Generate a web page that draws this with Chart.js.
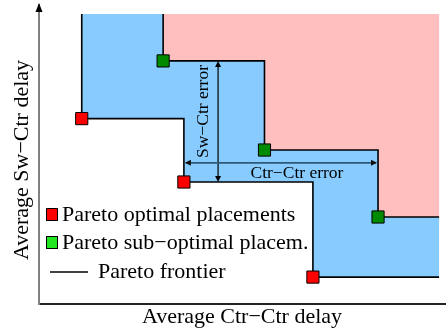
<!DOCTYPE html>
<html>
<head>
<meta charset="utf-8">
<script src="https://cdn.jsdelivr.net/npm/chart.js@4/dist/chart.umd.min.js"></script>
<style>
  html, body { margin: 0; padding: 0; background: #fff; overflow: hidden; }
  canvas { display: block; }
</style>
</head>
<body>
<canvas id="chart" width="446" height="333"></canvas>
<script>
// placements (arbitrary delay units, 0..100 on both axes)
const optimalX = [10.5, 35.6, 67.3];
const optimalY = [62, 40.8, 9];
const subX = [30.5, 55.4, 83.3];
const subY = [81.3, 51.5, 29.1];
// extent of the shaded regions
const regionTop = 97;
const regionRight = 98.3;
// where the two error arrows sit
const swCtrErrorX = 44;
const ctrCtrErrorY = 47.2;

const serif = "'Liberation Serif', 'DejaVu Serif', serif";

// staircase frontier going through each placement, then across to the right edge
function stairs(xs, ys) {
    const pts = [{ x: xs[0], y: regionTop }];
    for (let i = 0; i < xs.length; i++) {
        pts.push({ x: xs[i], y: ys[i] });
        const nextX = i + 1 < xs.length ? xs[i + 1] : regionRight;
        pts.push({ x: nextX, y: ys[i] });
    }
    return pts;
}

function region(xs, ys) {
    const pts = stairs(xs, ys);
    pts.push({ x: regionRight, y: regionTop });
    return pts;
}

function points(xs, ys) {
    return xs.map((x, i) => ({ x: x, y: ys[i] }));
}

function arrowHead(ctx, x, y, dir) {
    // dir: 'up' | 'down' | 'left' | 'right'
    const len = 6, half = 3;
    ctx.beginPath();
    ctx.moveTo(x, y);
    if (dir === 'up') { ctx.lineTo(x - half, y + len); ctx.lineTo(x + half, y + len); }
    if (dir === 'down') { ctx.lineTo(x - half, y - len); ctx.lineTo(x + half, y - len); }
    if (dir === 'left') { ctx.lineTo(x + len, y - half); ctx.lineTo(x + len, y + half); }
    if (dir === 'right') { ctx.lineTo(x - len, y - half); ctx.lineTo(x - len, y + half); }
    ctx.closePath();
    ctx.fill();
}

const decorations = {
    id: 'decorations',
    afterDraw(chart) {
        const ctx = chart.ctx;
        const xs = chart.scales.x, ys = chart.scales.y;
        const area = chart.chartArea;
        ctx.save();

        // arrow on top of the y axis
        ctx.fillStyle = '#000';
        ctx.beginPath();
        ctx.moveTo(area.left, area.top - 2);
        ctx.lineTo(area.left - 3.5, area.top + 7);
        ctx.lineTo(area.left + 3.5, area.top + 7);
        ctx.closePath();
        ctx.fill();

        // Sw-Ctr error (vertical double arrow)
        const vx = xs.getPixelForValue(swCtrErrorX);
        const vTop = ys.getPixelForValue(subY[0]);
        const vBot = ys.getPixelForValue(optimalY[1]);
        ctx.strokeStyle = '#000';
        ctx.lineWidth = 1.2;
        ctx.beginPath();
        ctx.moveTo(vx, vTop + 2);
        ctx.lineTo(vx, vBot - 2);
        ctx.stroke();
        arrowHead(ctx, vx, vTop, 'up');
        arrowHead(ctx, vx, vBot, 'down');

        // Ctr-Ctr error (horizontal double arrow)
        const hy = ys.getPixelForValue(ctrCtrErrorY);
        const hLeft = xs.getPixelForValue(optimalX[1]);
        const hRight = xs.getPixelForValue(subX[2]);
        ctx.strokeStyle = '#2c5a78';
        ctx.fillStyle = '#111';
        ctx.lineWidth = 1.6;
        ctx.beginPath();
        ctx.moveTo(hLeft + 2, hy);
        ctx.lineTo(hRight - 2, hy);
        ctx.stroke();
        arrowHead(ctx, hLeft + 1, hy, 'left');
        arrowHead(ctx, hRight - 1, hy, 'right');

        ctx.fillStyle = '#000';
        ctx.font = '17.5px ' + serif;
        ctx.textAlign = 'center';
        ctx.textBaseline = 'alphabetic';
        ctx.fillText('Ctr\u2212Ctr error', (hLeft + hRight) / 2 + 16, hy + 15);

        ctx.save();
        ctx.translate(vx - 10, (vTop + vBot) / 2 - 10);
        ctx.rotate(-Math.PI / 2);
        ctx.fillText('Sw\u2212Ctr error', 0, 0);
        ctx.restore();

        // axis titles
        ctx.font = '22px ' + serif;
        ctx.fillText('Average Ctr\u2212Ctr delay', 242, 323);
        ctx.save();
        ctx.translate(28, 160);
        ctx.rotate(-Math.PI / 2);
        ctx.fillText('Average Sw\u2212Ctr delay', 0, 0);
        ctx.restore();

        // legend
        ctx.textAlign = 'left';
        ctx.font = '22px ' + serif;
        ctx.lineWidth = 1;
        ctx.strokeStyle = '#000';
        ctx.fillStyle = '#ff0000';
        ctx.fillRect(46, 208, 12, 13);
        ctx.strokeRect(46.5, 208.5, 11, 12);
        ctx.fillStyle = '#22e622';
        ctx.fillRect(46, 236, 12, 13);
        ctx.strokeRect(46.5, 236.5, 11, 12);
        ctx.lineWidth = 1.5;
        ctx.beginPath();
        ctx.moveTo(50, 272);
        ctx.lineTo(88, 272);
        ctx.stroke();
        ctx.fillStyle = '#000';
        ctx.fillText('Pareto optimal placements', 62, 221);
        ctx.fillText('Pareto sub\u2212optimal placem.', 62, 249);
        ctx.fillText('Pareto frontier', 98, 278);

        ctx.restore();
    }
};

new Chart(document.getElementById('chart'), {
    type: 'line',
    data: {
        datasets: [
            {
                label: 'Pareto optimal placements',
                data: points(optimalX, optimalY),
                showLine: false,
                pointStyle: 'rect',
                pointRadius: 8.6,
                pointBackgroundColor: '#ff0000',
                pointBorderColor: '#000',
                pointBorderWidth: 1,
                order: 1
            },
            {
                label: 'Pareto sub-optimal placements',
                data: points(subX, subY),
                showLine: false,
                pointStyle: 'rect',
                pointRadius: 8.6,
                pointBackgroundColor: '#008a00',
                pointBorderColor: '#000',
                pointBorderWidth: 1,
                order: 2
            },
            {
                label: 'Pareto frontier',
                data: stairs(optimalX, optimalY),
                borderColor: '#000',
                borderWidth: 1.6,
                pointRadius: 0,
                fill: false,
                order: 3
            },
            {
                label: 'Sub-optimal frontier',
                data: stairs(subX, subY),
                borderColor: '#000',
                borderWidth: 1.6,
                pointRadius: 0,
                fill: false,
                order: 4
            },
            {
                label: 'sub-optimal region',
                data: region(subX, subY),
                borderWidth: 0,
                borderColor: 'rgba(0,0,0,0)',
                backgroundColor: '#ffbfbf',
                pointRadius: 0,
                fill: 'shape',
                order: 5
            },
            {
                label: 'error region',
                data: region(optimalX, optimalY),
                borderWidth: 0,
                borderColor: 'rgba(0,0,0,0)',
                backgroundColor: '#88ccff',
                pointRadius: 0,
                fill: 'shape',
                order: 6
            }
        ]
    },
    options: {
        responsive: false,
        animation: false,
        layout: { autoPadding: false, padding: { left: 39, top: 5, right: 0, bottom: 29 } },
        elements: { line: { tension: 0 } },
        plugins: {
            legend: { display: false },
            tooltip: { enabled: false }
        },
        scales: {
            x: {
                type: 'linear',
                min: 0,
                max: 100,
                ticks: { display: false },
                grid: { display: false, drawTicks: false },
                border: { display: true, color: '#222', width: 2 }
            },
            y: {
                type: 'linear',
                min: 0,
                max: 100,
                ticks: { display: false },
                grid: { display: false, drawTicks: false },
                border: { display: true, color: '#808080', width: 2 }
            }
        }
    },
    plugins: [decorations]
});
</script>
</body>
</html>
